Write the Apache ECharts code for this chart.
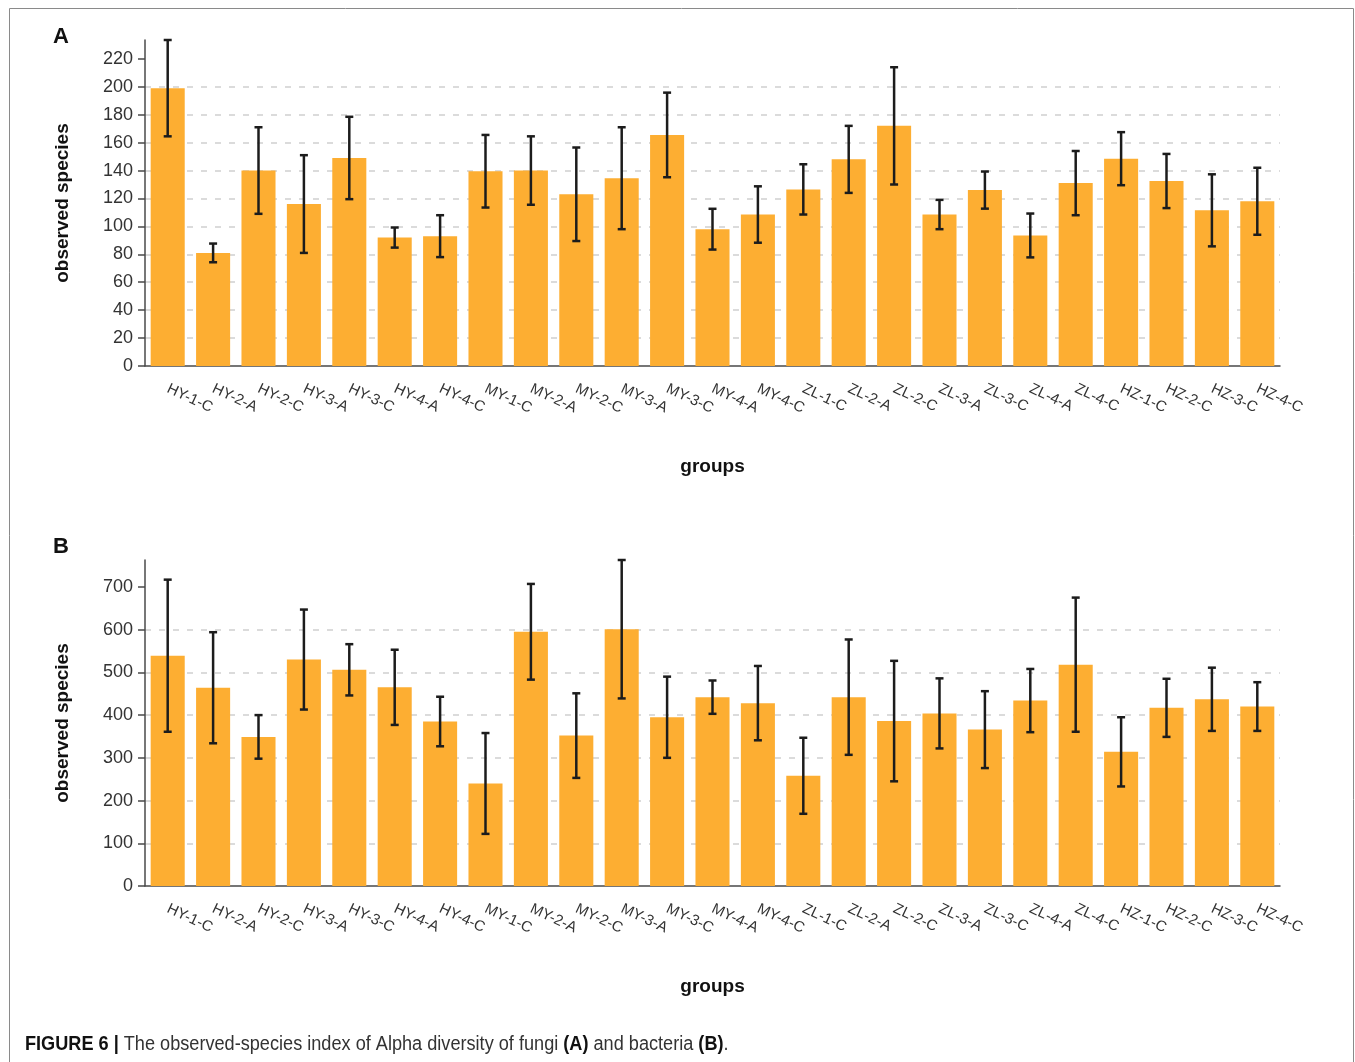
<!DOCTYPE html>
<html>
<head>
<meta charset="utf-8">
<script src="https://cdn.jsdelivr.net/npm/echarts@6/dist/echarts.min.js"></script>
<style>
  html, body { margin: 0; padding: 0; background: #fff; }
  #chart { width: 1355px; height: 1062px; }
</style>
</head>
<body>
<div id="chart"></div>
<script>
// Sample groups (shared by both panels)
const groups = ['HY-1-C', 'HY-2-A', 'HY-2-C', 'HY-3-A', 'HY-3-C', 'HY-4-A', 'HY-4-C',
  'MY-1-C', 'MY-2-A', 'MY-2-C', 'MY-3-A', 'MY-3-C', 'MY-4-A', 'MY-4-C',
  'ZL-1-C', 'ZL-2-A', 'ZL-2-C', 'ZL-3-A', 'ZL-3-C', 'ZL-4-A', 'ZL-4-C',
  'HZ-1-C', 'HZ-2-C', 'HZ-3-C', 'HZ-4-C'];

// Panel A: fungi, observed species (mean and standard deviation)
const fungiMean = [199, 81, 140, 116, 149, 92, 93, 139.5, 140, 123, 134.5, 165.5, 98, 108.5,
  126.5, 148, 172, 108.5, 126, 93.5, 131, 148.5, 132.5, 111.5, 118];
const fungiSd = [34.5, 6.7, 31, 35, 29.5, 7.2, 15, 26, 24.5, 33.5, 36.5, 30.3, 14.6, 20.2,
  18, 24, 42, 10.5, 13.3, 15.7, 23, 19, 19.4, 25.8, 24];

// Panel B: bacteria, observed species (mean and standard deviation)
const bacteriaMean = [539, 464, 349, 530, 506, 465, 385, 240, 595, 352, 601, 395, 442, 428,
  258, 442, 386, 404, 366, 434, 518, 314, 417, 437, 420];
const bacteriaSd = [178, 130, 51, 117, 60, 88, 58, 118, 112, 99, 162, 95, 39, 87,
  89, 135, 141, 82, 90, 74, 157, 81, 68, 74, 57];

// Y tick values
const fungiTicks = [0, 20, 40, 60, 80, 100, 120, 140, 160, 180, 200, 220];
const bacteriaTicks = [0, 100, 200, 300, 400, 500, 600, 700];

const FONT = '"Liberation Sans", Arial, Helvetica, sans-serif';
const BAR_COLOR = '#FDAE32';
const AXIS_COLOR = '#4a4a4a';

// The value axis ends at the highest error-bar cap
function upperOf(mean, sd) { return Math.max(...mean.map((m, i) => m + sd[i])); }

function categoryAxis(gridIndex) {
  return {
    type: 'category', gridIndex, data: groups,
    axisLine: { lineStyle: { color: AXIS_COLOR, width: 1.5 } },
    axisTick: { alignWithLabel: true, length: 6, lineStyle: { color: AXIS_COLOR, width: 1.5 } },
    axisLabel: { interval: 0, rotate: -25, fontSize: 15, color: '#333', margin: 22, fontFamily: FONT },
    name: 'groups', nameLocation: 'middle', nameGap: 91,
    nameTextStyle: { fontSize: 19, fontWeight: 'bold', color: '#111', fontFamily: FONT }
  };
}

function valueAxis(gridIndex, ticks, max) {
  return {
    type: 'value', gridIndex, min: 0, max,
    axisLine: { show: true, lineStyle: { color: AXIS_COLOR, width: 1.5 } },
    axisTick: { show: true, length: 7, customValues: ticks, lineStyle: { color: AXIS_COLOR, width: 1.5 } },
    axisLabel: { customValues: ticks, fontSize: 18, color: '#333', margin: 12, fontFamily: FONT },
    splitLine: { show: true, showMinLine: false, showMaxLine: false,
      lineStyle: { type: [6, 8], color: '#cfcfcf', width: 1.5 } },
    name: 'observed species', nameLocation: 'middle', nameGap: 73,
    nameTextStyle: { fontSize: 19, fontWeight: 'bold', color: '#111', fontFamily: FONT }
  };
}

function barSeries(index, mean) {
  return {
    type: 'bar', xAxisIndex: index, yAxisIndex: index, data: mean,
    barCategoryGap: '25%', itemStyle: { color: BAR_COLOR }, silent: true
  };
}

// Mean ± SD whiskers with short caps
function errorSeries(index, mean, sd) {
  return {
    type: 'custom', xAxisIndex: index, yAxisIndex: index, z: 5, silent: true,
    data: mean.map((m, i) => [i, m - sd[i], m + sd[i]]),
    encode: { x: 0, y: [1, 2] },
    renderItem(params, api) {
      const lo = api.coord([api.value(0), api.value(1)]);
      const hi = api.coord([api.value(0), api.value(2)]);
      const hw = 4;
      const style = { stroke: '#1c1c1c', lineWidth: 2.5 };
      return {
        type: 'group', children: [
          { type: 'line', shape: { x1: hi[0], y1: hi[1], x2: lo[0], y2: lo[1] }, style },
          { type: 'line', shape: { x1: hi[0] - hw, y1: hi[1], x2: hi[0] + hw, y2: hi[1] }, style },
          { type: 'line', shape: { x1: lo[0] - hw, y1: lo[1], x2: lo[0] + hw, y2: lo[1] }, style }
        ]
      };
    }
  };
}

const chart = echarts.init(document.getElementById('chart'), null, { renderer: 'canvas' });
chart.setOption({
  animation: false,
  backgroundColor: '#fff',
  grid: [
    { left: 145, width: 1135, top: 40, height: 326 },
    { left: 145, width: 1135, top: 560, height: 326 }
  ],
  xAxis: [categoryAxis(0), categoryAxis(1)],
  yAxis: [
    valueAxis(0, fungiTicks, upperOf(fungiMean, fungiSd)),
    valueAxis(1, bacteriaTicks, upperOf(bacteriaMean, bacteriaSd))
  ],
  series: [
    barSeries(0, fungiMean), errorSeries(0, fungiMean, fungiSd),
    barSeries(1, bacteriaMean), errorSeries(1, bacteriaMean, bacteriaSd)
  ],
  graphic: [
    { type: 'rect', silent: true, shape: { x: 9.5, y: 8.5, width: 1344, height: 1100 },
      style: { fill: 'none', stroke: '#8a8a8a', lineWidth: 1 } },
    { type: 'text', left: 53, top: 26, style: { text: 'A', font: 'bold 22px ' + FONT, fill: '#111' } },
    { type: 'text', left: 53, top: 536, style: { text: 'B', font: 'bold 22px ' + FONT, fill: '#111' } },
    { type: 'text', x: 25, y: 1045, scaleX: 0.93, style: {
        text: '{b|FIGURE 6 |} The observed-species index of Alpha diversity of fungi {b|(A)} and bacteria {b|(B)}.',
        font: '19.5px ' + FONT, fill: '#333', verticalAlign: 'middle',
        rich: { b: { fontWeight: 'bold', fontSize: 19.5, fontFamily: FONT, fill: '#111' } }
      } }
  ]
});
</script>
</body>
</html>
